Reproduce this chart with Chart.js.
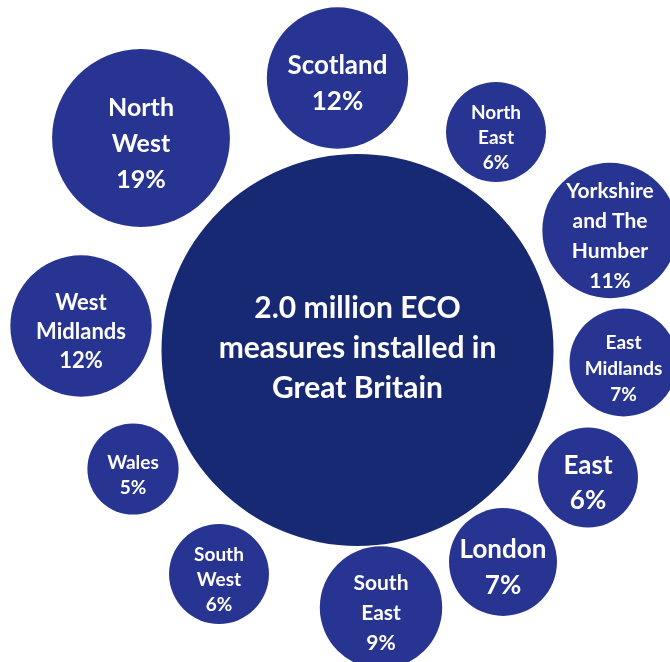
<!DOCTYPE html>
<html>
<head>
<meta charset="utf-8">
<title>ECO measures by region</title>
<script src="https://cdn.jsdelivr.net/npm/chart.js@4"></script>
<style>
    html, body { margin: 0; padding: 0; background: #ffffff; overflow: hidden; }
    #wrap { width: 670px; height: 662px; }
</style>
</head>
<body>
<div id="wrap"><canvas id="eco-chart" width="670" height="662"></canvas></div>
<script>
// --- Data ---
const regions = ['Scotland', 'North West', 'North East', 'Yorkshire and The Humber', 'West Midlands',
    'East Midlands', 'Wales', 'East', 'South West', 'London', 'South East'];
const shares = [12, 19, 6, 11, 12, 7, 5, 6, 6, 7, 9];
// bubble placement on the 670 x 662 layout grid
const xPos = [337.5, 141, 496, 610, 81, 623.5, 133, 588, 219, 503, 381];
const yPos = [78, 138, 132, 230.5, 326, 362.5, 469, 477.5, 574, 562, 607.5];
const labelLines = [
    ['Scotland', '12%'],
    ['North', 'West', '19%'],
    ['North', 'East', '6%'],
    ['Yorkshire', 'and The', 'Humber', '11%'],
    ['West', 'Midlands', '12%'],
    ['East', 'Midlands', '7%'],
    ['Wales', '5%'],
    ['East', '6%'],
    ['South', 'West', '6%'],
    ['London', '7%'],
    ['South', 'East', '9%']
];
const totalMeasures = '2.0 million';
const totalShare = 100;
const centreLines = [totalMeasures + ' ECO', 'measures installed in', 'Great Britain'];
const centrePos = { x: 357.5, y: 350 };

// --- Styles ---
const regionColor = '#273491';
const centreColor = '#172972';
const fontFamily = 'Lato, "Open Sans", sans-serif';
// font size / line height per region label, same order as regions
const labelFont = [
    [26, 36], [25, 36], [19, 25], [21, 30], [22, 29], [19, 26],
    [19, 25], [26, 35], [19, 25], [26, 36], [21, 30]
];
const centreFont = [30, 40];

function bubbleRadius(share, k) {
    // area of each bubble follows its share
    return k * Math.sqrt(share);
}

// --- Label plugin ---
const bubbleLabels = {
    id: 'bubbleLabels',
    afterDatasetsDraw(chart) {
        const ctx = chart.ctx;
        ctx.save();
        ctx.fillStyle = '#ffffff';
        ctx.textAlign = 'center';
        ctx.textBaseline = 'middle';
        chart.data.datasets.forEach((ds, di) => {
            const meta = chart.getDatasetMeta(di);
            meta.data.forEach((el, i) => {
                const lines = ds.labelLines[i];
                const [size, lh] = ds.labelFont[i];
                ctx.font = `bold ${size}px ${fontFamily}`;
                const top = el.y - (lines.length - 1) * lh / 2 + ds.labelShift;
                lines.forEach((line, j) => ctx.fillText(line, el.x, top + j * lh));
            });
        });
        ctx.restore();
    }
};

// --- Chart ---
// first dataset is drawn on top, so the regions come first
const ctx = document.getElementById('eco-chart').getContext('2d');
new Chart(ctx, {
    type: 'bubble',
    data: {
        datasets: [{
            label: 'Regions',
            data: regions.map((r, i) => ({ x: xPos[i], y: yPos[i], r: bubbleRadius(shares[i], 20.4) })),
            backgroundColor: regionColor,
            borderWidth: 0,
            hoverRadius: 0,
            labelLines: labelLines,
            labelFont: labelFont,
            labelShift: 6,
            clip: false
        }, {
            label: 'Great Britain',
            data: [{ x: centrePos.x, y: centrePos.y, r: bubbleRadius(totalShare, 19.6) }],
            backgroundColor: centreColor,
            borderWidth: 0,
            hoverRadius: 0,
            labelLines: [centreLines],
            labelFont: [centreFont],
            labelShift: -2,
            clip: false
        }]
    },
    options: {
        responsive: false,
        animation: false,
        layout: { padding: 0, autoPadding: false },
        scales: {
            x: { type: 'linear', min: 0, max: 670, display: false },
            y: { type: 'linear', min: 0, max: 662, reverse: true, display: false }
        },
        plugins: {
            legend: { display: false },
            tooltip: { enabled: false }
        }
    },
    plugins: [bubbleLabels]
});
</script>
</body>
</html>
